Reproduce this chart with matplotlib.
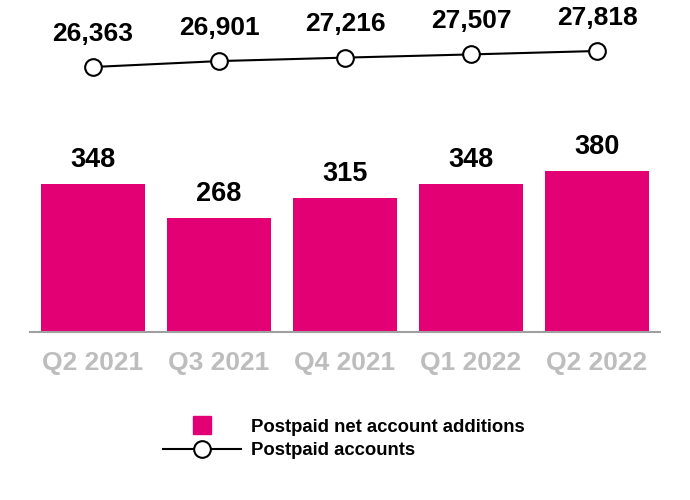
import matplotlib.pyplot as plt
from matplotlib.lines import Line2D

quarters = ["Q2 2021", "Q3 2021", "Q4 2021", "Q1 2022", "Q2 2022"]
net_additions = [348, 268, 315, 348, 380]
accounts = [26363, 26901, 27216, 27507, 27818]

magenta = "#E20074"
plt.rcParams["font.family"] = ["Liberation Sans", "DejaVu Sans"]
plt.rcParams["font.weight"] = "bold"

fig = plt.figure(figsize=(6.9, 5), dpi=100)

# bars
ax = fig.add_axes([30 / 690, 0.336, 630 / 690, 0.34])
x = range(len(quarters))
ax.bar(x, net_additions, width=0.83, color=magenta, zorder=2)
for i, v in enumerate(net_additions):
    ax.annotate(str(v), (i, v), xytext=(0, 12), textcoords="offset points",
                ha="center", va="baseline", fontsize=19.5, fontweight="bold")
ax.set_xlim(-0.5, 4.5)
ax.set_ylim(0, 400)
ax.set_yticks([])
ax.set_xticks(list(x))
ax.set_xticklabels(quarters, fontsize=19, fontweight="bold", color="#BDBDBD")
ax.tick_params(axis="x", length=0, pad=14)
for s in ["top", "right", "left"]:
    ax.spines[s].set_visible(False)
ax.spines["bottom"].set_color("#A0A0A0")
ax.spines["bottom"].set_linewidth(1.5)
ax.patch.set_alpha(0)

# line
ax2 = fig.add_axes([30 / 690, 0.84, 630 / 690, 0.08])
ax2.plot(list(x), accounts, color="black", lw=1.5, marker="o", markersize=12,
         markerfacecolor="white", markeredgecolor="black", markeredgewidth=1.5)
for i, v in enumerate(accounts):
    ax2.annotate(f"{v:,}", (i, v), xytext=(0, 19), textcoords="offset points",
                 ha="center", va="baseline", fontsize=19, fontweight="bold")
ax2.set_xlim(-0.5, 4.5)
ax2.set_ylim(25181, 28818)
ax2.axis("off")

handles = [
    Line2D([], [], color=magenta, marker="s", linestyle="none", markersize=12.5),
    Line2D([], [], color="black", lw=1.5, marker="o", markersize=12,
           markerfacecolor="white", markeredgecolor="black", markeredgewidth=1.5),
]
fig.legend(handles, ["Postpaid net account additions", "Postpaid accounts"],
           loc="center", bbox_to_anchor=(0.4986, 0.122), frameon=False,
           prop={"size": 13.3, "weight": "bold"}, handlelength=4.2,
           labelspacing=0.35, handletextpad=0.55)

fig.savefig("out.png", dpi=100)
